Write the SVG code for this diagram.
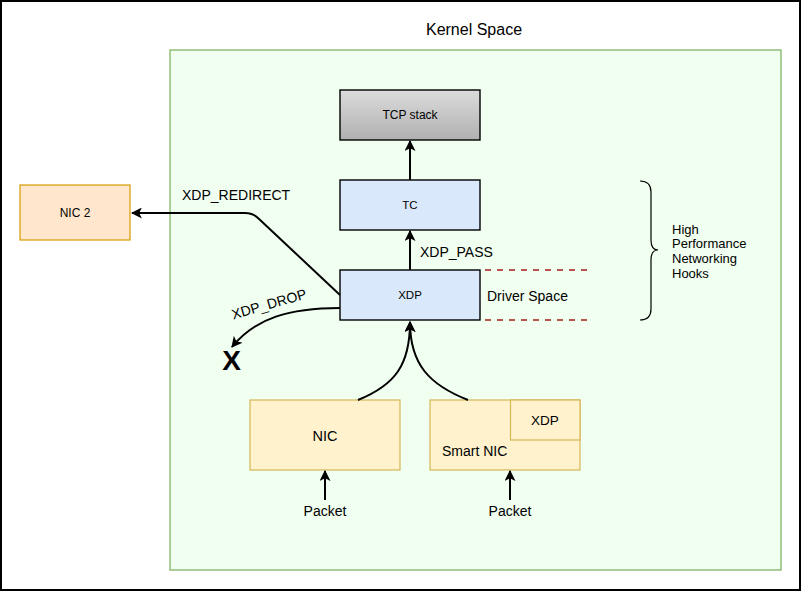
<svg xmlns="http://www.w3.org/2000/svg" width="801" height="591" viewBox="0 0 801 591">
<defs>
<style>
text{font-family:"Liberation Sans",Arial,Helvetica,sans-serif;fill:#000;}
.c{text-anchor:middle;dominant-baseline:central;}
.l{dominant-baseline:central;}
.box{stroke:#000;stroke-width:1.4;}
.blue{fill:#dae8fc;}
.nic{fill:#fff2cc;stroke:#d6b656;stroke-width:1.2;}
.org{fill:#ffe6cc;stroke:#d79b00;stroke-width:1.2;}
.edge{fill:none;stroke:#000;stroke-width:2;}
.dash{fill:none;stroke:#b85450;stroke-width:2;stroke-dasharray:6 6;}
</style>
<linearGradient id="gray" x1="0" y1="0" x2="0" y2="1">
<stop offset="0" stop-color="#dcdcdc"/>
<stop offset="1" stop-color="#b0b0b0"/>
</linearGradient>
<marker id="arr" viewBox="0 0 10 10" refX="9" refY="5" markerWidth="5.5" markerHeight="5.5" orient="auto" markerUnits="strokeWidth">
<path d="M0,0 L10,5 L0,10 L2.5,5 Z" fill="#000"/>
</marker>
</defs>
<rect x="0" y="0" width="801" height="591" fill="#fff"/>
<rect x="1" y="1" width="799" height="589" fill="none" stroke="#000" stroke-width="2"/>

<g id="kernel-space">
<rect x="170" y="50" width="611" height="520" fill="#f0fff0" stroke="#82b366" stroke-width="1.3"/>
<text class="c" x="474" y="29" font-size="16">Kernel Space</text>
</g>

<g id="tcp-stack">
<rect class="box" x="340" y="90" width="140" height="50" fill="url(#gray)"/>
<text class="c" x="410" y="115" font-size="12">TCP stack</text>
</g>
<g id="tc">
<rect class="box blue" x="340" y="180" width="140" height="50"/>
<text class="c" x="410" y="205" font-size="11.5">TC</text>
</g>
<g id="xdp">
<rect class="box blue" x="340" y="270" width="140" height="50"/>
<text class="c" x="410" y="295" font-size="11.5">XDP</text>
</g>
<g id="nic2">
<rect class="org" x="20" y="185" width="110" height="55"/>
<text class="c" x="75" y="213" font-size="12">NIC 2</text>
</g>
<g id="nic">
<rect class="nic" x="250" y="400" width="150" height="70"/>
<text class="c" x="325" y="436" font-size="14.5">NIC</text>
</g>
<g id="smart-nic">
<rect class="nic" x="430" y="400" width="150" height="70"/>
<rect class="nic" x="510.5" y="400" width="69.5" height="40"/>
<text class="c" x="545" y="420" font-size="13.5">XDP</text>
<text class="l" x="442" y="451" font-size="14">Smart NIC</text>
</g>
<g id="driver-space">
<line class="dash" x1="485" y1="270" x2="588" y2="270"/>
<line class="dash" x1="485" y1="320" x2="588" y2="320"/>
<text class="l" x="487" y="296" font-size="14">Driver Space</text>
</g>
<g id="hooks">
<path d="M640,181 Q651,181 651,192 L651,240 Q651,250 658,250 Q651,250 651,260 L651,309 Q651,320 640,320" fill="none" stroke="#000" stroke-width="1.2"/>
<text font-size="13" x="672">
<tspan x="672" y="233.5">High</tspan>
<tspan x="672" y="248.2">Performance</tspan>
<tspan x="672" y="262.9">Networking</tspan>
<tspan x="672" y="277.6">Hooks</tspan>
</text>
</g>
<g id="drop-x">
<text x="231.5" y="370" font-size="28" font-weight="bold" text-anchor="middle">X</text>
</g>
<g id="packet1"><text class="c" x="325" y="511" font-size="14">Packet</text></g>
<g id="packet2"><text class="c" x="510" y="511" font-size="14">Packet</text></g>

<g id="connectors">
<line class="edge" x1="410" y1="180" x2="410" y2="141" marker-end="url(#arr)"/>
<line class="edge" x1="410" y1="270" x2="410" y2="231" marker-end="url(#arr)"/>
<text class="l" x="420" y="252" font-size="14">XDP_PASS</text>
<path class="edge" d="M340,295 L258,218 Q253,213 245,213 L132,213" marker-end="url(#arr)"/>
<text class="l" x="182" y="195" font-size="14">XDP_REDIRECT</text>
<path class="edge" d="M340,308 C290,308 255,318 232,347" marker-end="url(#arr)"/>
<text class="c" x="269" y="304" font-size="14" transform="rotate(-16 269 304)">XDP_DROP</text>
<path class="edge" d="M358,400 C395,385 410,365 410,322" marker-end="url(#arr)"/>
<path class="edge" d="M468,400 C430,385 410,365 410,322" marker-end="url(#arr)"/>
<line class="edge" x1="325" y1="500" x2="325" y2="471" marker-end="url(#arr)"/>
<line class="edge" x1="510" y1="500" x2="510" y2="471" marker-end="url(#arr)"/>
</g>
</svg>
